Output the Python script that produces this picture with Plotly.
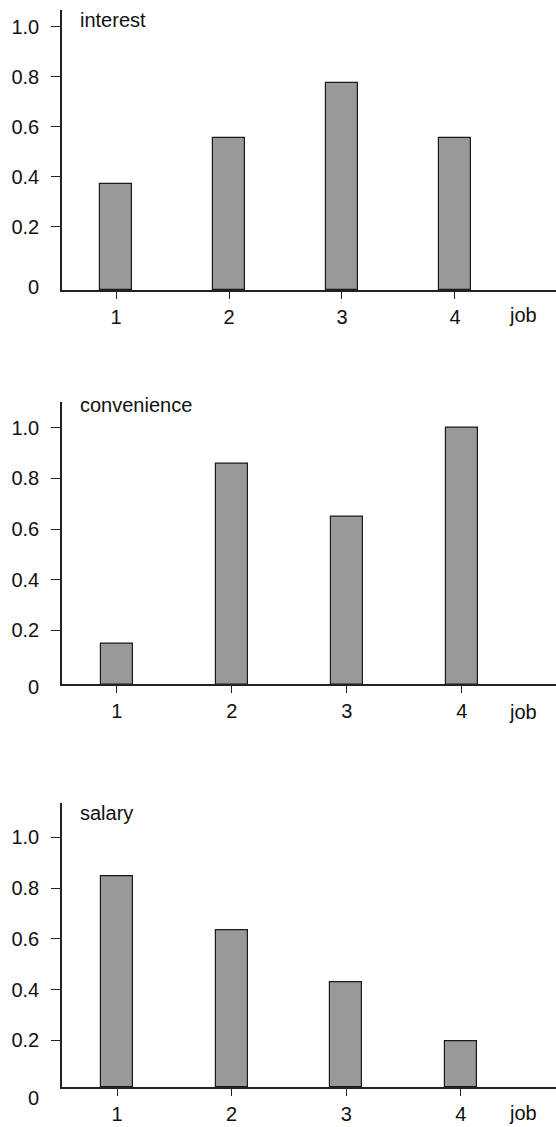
import plotly.graph_objects as go

jobs = [1, 2, 3, 4]
interest = [0.373, 0.557, 0.776, 0.556]
convenience = [0.149, 0.857, 0.647, 1.0]
salary = [0.845, 0.633, 0.43, 0.197]

panel_names = ["interest", "convenience", "salary"]
panel_values = [interest, convenience, salary]
y_ticks = [0.2, 0.4, 0.6, 0.8, 1.0]
y_ticktext = ["0.2", "0.4", "0.6", "0.8", "1.0"]

W, H = 556, 1127
FONT = dict(family="Liberation Sans, Arial, Helvetica, sans-serif", size=20, color="#111")

# per-panel geometry (pixels from the top)
tops = [10, 401.7, 803.3]
bottoms = [290, 684.3, 1087.3]
y_ranges = [[-0.053, 1.067], [-0.013, 1.103], [0.0146, 1.134]]
x_ranges = [[0.522, 4.894], [0.524, 4.82], [0.52, 4.83]]
bar_w = [0.288, 0.279, 0.279]
zero_shift = [3, -2.5, -11]
title_shift = [-10, -3, -10]
job_shift = [-25, -28, -26]

fig = go.Figure()
annotations = []
for i in range(3):
  n = "" if i == 0 else str(i + 1)
  base = y_ranges[i][0]
  fig.add_trace(go.Bar(x=jobs, y=[v - base for v in panel_values[i]], base=base,
                       width=bar_w[i], marker=dict(color="#999999", line=dict(color="#1a1a1a", width=1.2)),
                       xaxis="x" + n, yaxis="y" + n, showlegend=False))
  fig["layout"]["xaxis" + n] = dict(domain=[62 / W, 1], range=x_ranges[i], anchor="y" + n, automargin=False,
                                   tickvals=jobs, ticks="outside", ticklen=7, tickwidth=1.2, tickcolor="#222",
                                   showline=True, linecolor="#222", linewidth=1.5, showgrid=False, zeroline=False,
                                   ticklabelstandoff=1, tickfont=FONT)
  fig["layout"]["yaxis" + n] = dict(domain=[1 - bottoms[i] / H, 1 - tops[i] / H], range=y_ranges[i], anchor="x" + n,
                                   automargin=False, tickvals=y_ticks, ticktext=y_ticktext, ticks="outside", ticklen=9,
                                   tickwidth=1.2, tickcolor="#222", showline=True, linecolor="#222", linewidth=1.5,
                                   showgrid=False, zeroline=False, ticklabelstandoff=8, tickfont=FONT)
  annotations.append(dict(text=panel_names[i], xref="x" + n + " domain", yref="y" + n + " domain", x=0, y=1,
                          xanchor="left", yanchor="middle", xshift=16, yshift=title_shift[i], showarrow=False, font=FONT))
  annotations.append(dict(text="0", xref="x" + n + " domain", yref="y" + n + " domain", x=0, y=0,
                          xanchor="right", yanchor="middle", xshift=-21, yshift=zero_shift[i], showarrow=False, font=FONT))
  annotations.append(dict(text="job", xref="paper", yref="y" + n + " domain", x=523 / W, y=0,
                          xanchor="center", yanchor="middle", yshift=job_shift[i], showarrow=False, font=FONT))

fig.update_layout(width=W, height=H, margin=dict(l=0, r=0, t=0, b=0), plot_bgcolor="white", paper_bgcolor="white",
                  font=FONT, annotations=annotations, bargap=0)
# page body has a default 8px margin, drop it so the figure fills the window
fig.write_html("out.html", config={"displayModeBar": False},
               post_script="document.body.style.margin='0px';")
